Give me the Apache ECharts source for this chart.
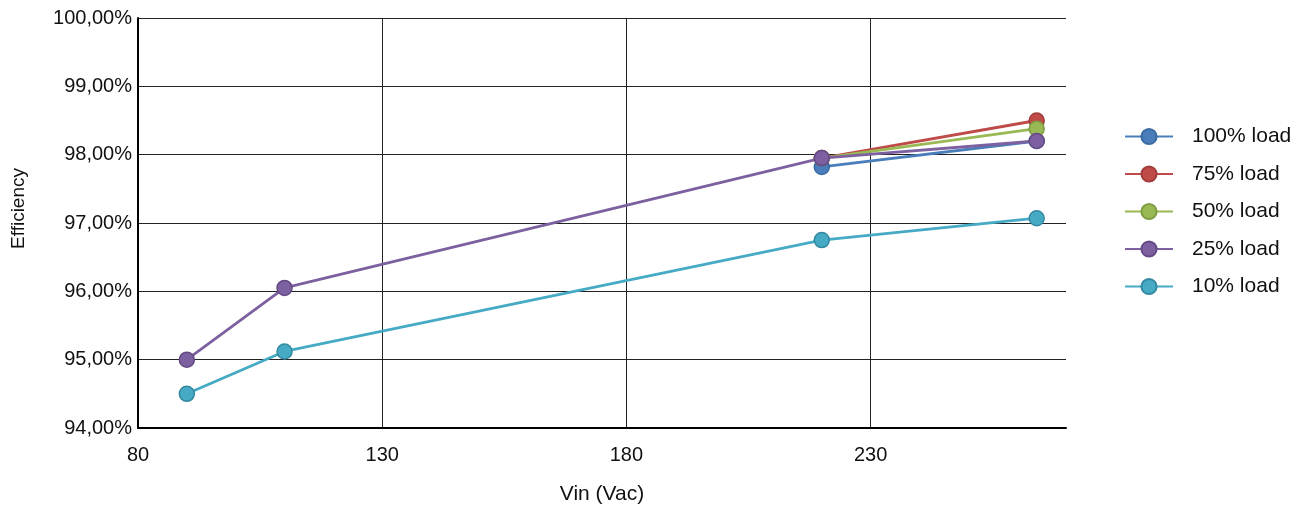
<!DOCTYPE html>
<html><head><meta charset="utf-8">
<script src="https://cdn.jsdelivr.net/npm/echarts@6/dist/echarts.min.js"></script>
<style>html,body{margin:0;padding:0;background:#fff}#c{width:1302px;height:510px}</style>
</head><body><div id="c"></div>
<script>
const seriesNames = ['100% load', '75% load', '50% load', '25% load', '10% load'];
const vinLow = [220, 264];
const vinAll = [90, 110, 220, 264];
const load100 = [97.82, 98.20];
const load75 = [97.95, 98.50];
const load50 = [97.95, 98.38];
const load25 = [95.00, 96.05, 97.95, 98.20];
const load10 = [94.50, 95.12, 96.75, 97.07];
const colors = ['#4a7ebb', '#be4b48', '#98b954', '#7d60a0', '#46aac5'];
const borders = ['#3a6aa0', '#a03c3a', '#7e9c42', '#654a85', '#35899f'];
const allData = [load100, load75, load50, load25, load10];
const allX = [vinLow, vinLow, vinLow, vinAll, vinAll];

const font = '"Liberation Sans", Arial, Helvetica, sans-serif';
const chart = echarts.init(document.getElementById('c'));
chart.setOption({
  animation: false,
  grid: { left: 138, right: 236, top: 18, bottom: 82, containLabel: false },
  legend: {
    orient: 'vertical', left: 1119, top: 121, itemWidth: 48, itemHeight: 19, itemGap: 16.5,
    textStyle: { fontFamily: font, fontSize: 21, color: '#111', padding: [0, 0, 0, 14] },
    data: seriesNames
  },
  xAxis: {
    type: 'value', min: 80, max: 270, interval: 50,
    name: 'Vin (Vac)', nameLocation: 'middle', nameGap: 55.5,
    nameTextStyle: { fontFamily: font, fontSize: 21, color: '#111' },
    axisLine: { show: true, lineStyle: { color: '#000', width: 2 } },
    axisTick: { show: false },
    axisLabel: { fontFamily: font, fontSize: 20, color: '#111', margin: 17.5, showMaxLabel: false },
    splitLine: { show: true, showMinLine: false, showMaxLine: false, lineStyle: { color: '#222', width: 1 } }
  },
  yAxis: {
    type: 'value', min: 94, max: 100, interval: 1,
    name: 'Efficiency', nameLocation: 'middle', nameGap: 109.5, nameRotate: 90,
    nameTextStyle: { fontFamily: font, fontSize: 19, color: '#111', padding: [0, 0, 0, 29] },
    axisLine: { show: true, lineStyle: { color: '#000', width: 2 } },
    axisTick: { show: false },
    axisLabel: { fontFamily: font, fontSize: 20, color: '#111', margin: 6,
      formatter: v => v.toFixed(2).replace('.', ',') + '%' },
    splitLine: { show: true, lineStyle: { color: '#222', width: 1 } }
  },
  series: seriesNames.map((n, i) => ({
    name: n, type: 'line',
    data: allX[i].map((x, j) => [x, allData[i][j]]),
    symbol: 'circle', symbolSize: 15,
    lineStyle: { color: colors[i], width: 2.8 },
    itemStyle: { color: colors[i], borderColor: borders[i], borderWidth: 1.5 },
    emphasis: { disabled: true }
  }))
});
</script></body></html>
